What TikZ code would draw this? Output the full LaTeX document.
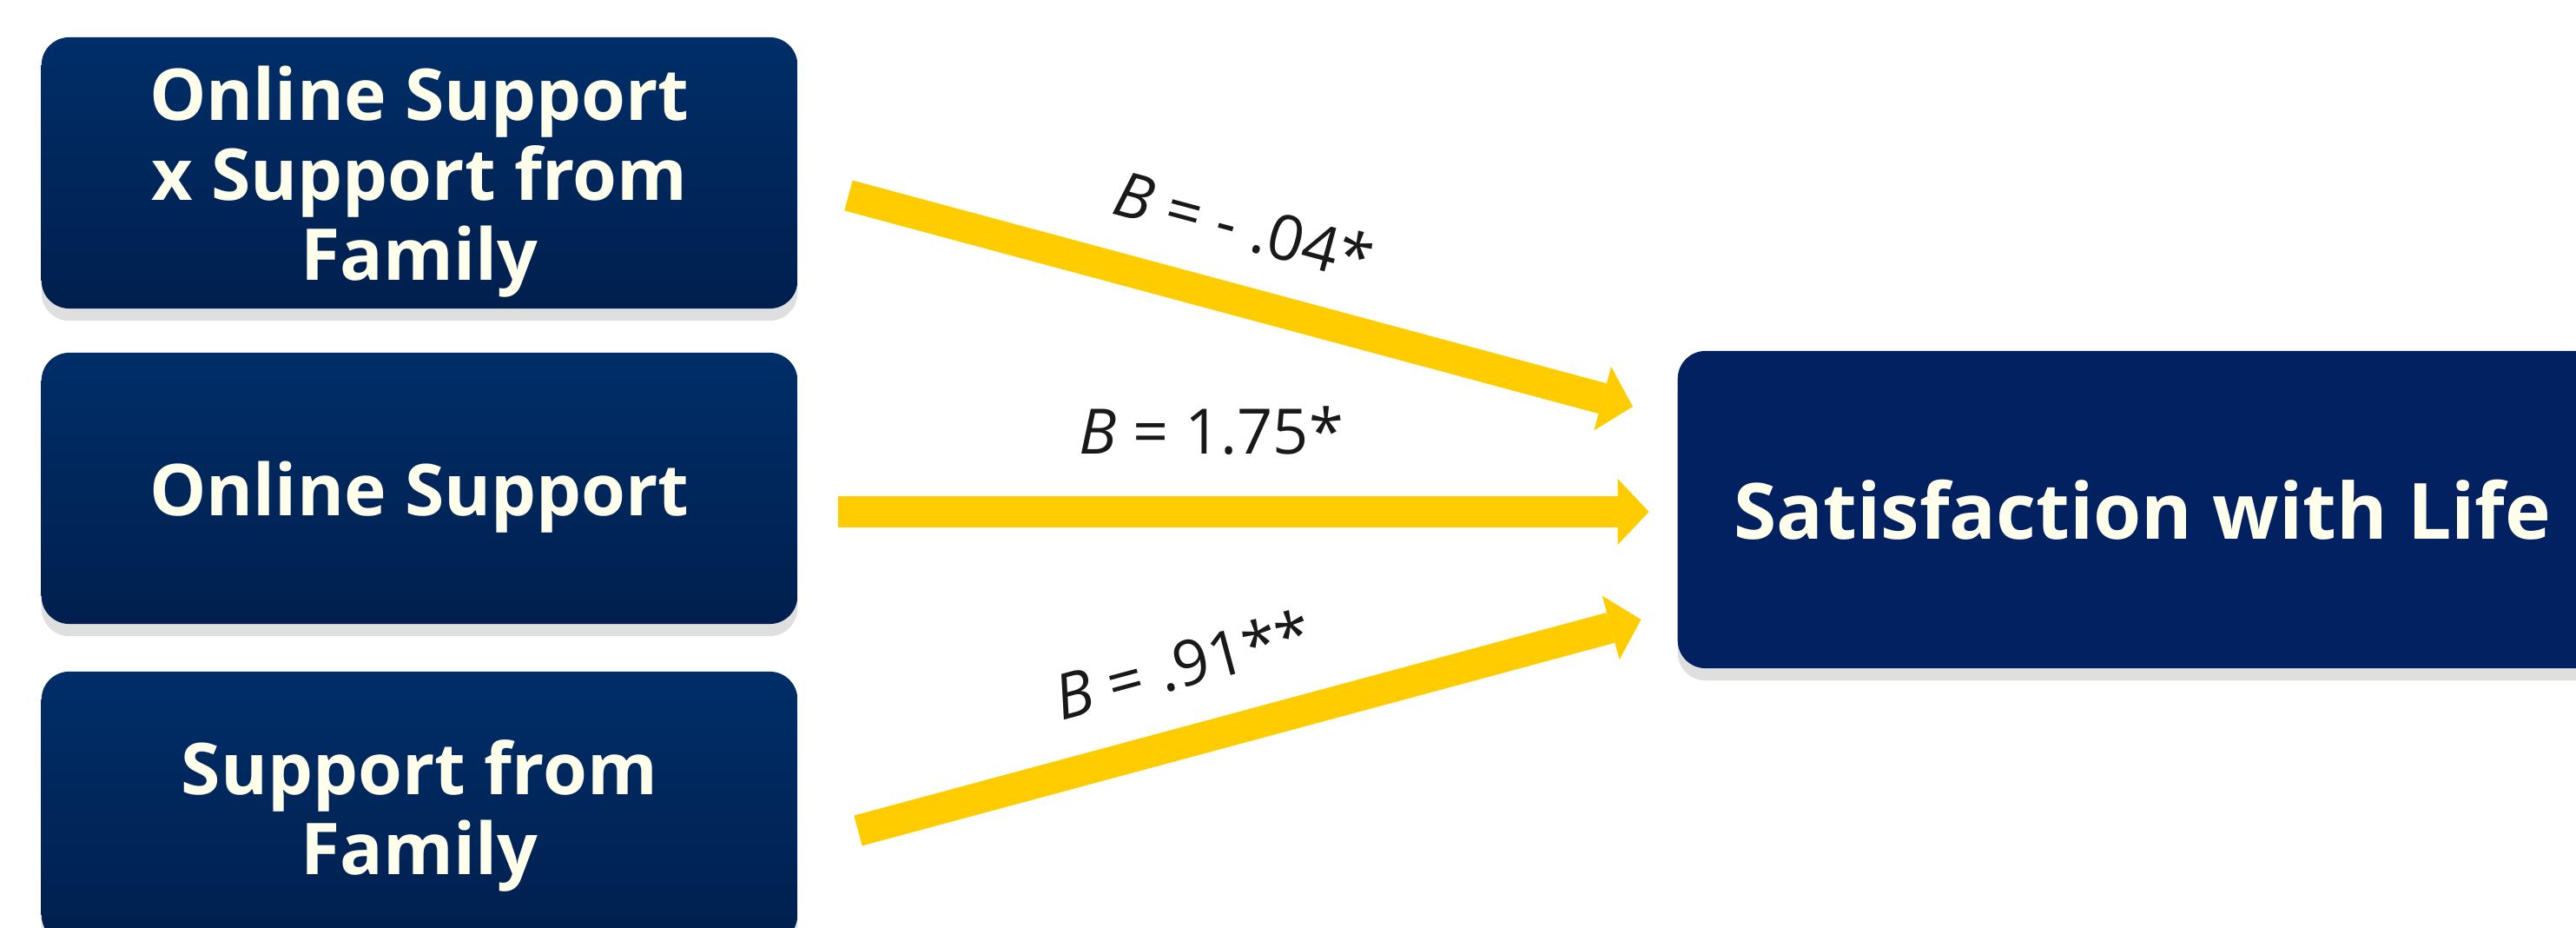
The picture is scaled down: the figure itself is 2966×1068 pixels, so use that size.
\documentclass[tikz,border=0pt]{standalone}
\usepackage{fontspec}
\setmainfont{Open Sans}
\usetikzlibrary{arrows.meta, calc, shadows}

\definecolor{navytop}{RGB}{0,46,104}
\definecolor{navybot}{RGB}{0,31,78}
\definecolor{navyflat}{RGB}{2,33,96}
\definecolor{ivory}{RGB}{255,255,235}
\definecolor{gold}{RGB}{255,204,0}

\begin{document}
\begin{tikzpicture}[x=0.01cm, y=-0.01cm,
    predbox/.style={rounded corners=0.32cm, minimum width=8.7cm, minimum height=3.12cm,
        top color=navytop, bottom color=navybot, text=ivory, align=center,
        text depth=0pt, font=\fontsize{23.4}{26.2}\selectfont\bfseries,
        drop shadow={shadow xshift=0pt, shadow yshift=-4pt, opacity=0.25}},
    outbox/.style={rounded corners=0.32cm, minimum width=10.7cm, minimum height=3.65cm,
        fill=navyflat, text=ivory, align=center,
        font=\fontsize{25.4}{30}\selectfont\bfseries,
        drop shadow={shadow xshift=0pt, shadow yshift=-4pt, opacity=0.25}},
    fatarrow/.style={draw=gold, line width=0.36cm,
        -{Triangle[length=0.36cm, width=0.76cm, line width=0pt]}},
    coef/.style={font=\fontsize{20.5}{24}\selectfont, text=black!90, inner sep=0pt, sloped}]

    % === Canvas ===
    \useasboundingbox (0,0) rectangle (2966,1068);

    % === Predictors ===
    \node[predbox] (inter)  at (483,199) {Online Support\\x Support from\\Family};
    \node[predbox] (online) at (483,562) {Online Support};
    \node[predbox] (family) at (483,929) {Support from\\Family};

    % === Outcome ===
    \node[outbox] (life) at (2467,586.5) {Satisfaction with Life};

    % === Paths ===
    \draw[fatarrow] ($(inter.east)+(58,26)$) -- ($(life.west)+(-51,-118.5)$)
    node[coef, pos=0.48, above=0.39cm] {\textit{B} = - .04*};
    \draw[fatarrow] ($(online.east)+(46.5,27)$) -- ($(life.west)+(-32.4,2.5)$)
    node[coef, pos=0.46, above=0.47cm] {\textit{B} = 1.75*};
    \draw[fatarrow] ($(family.east)+(69,27)$) -- ($(life.west)+(-41.5,126.5)$)
    node[coef, pos=0.44, above=0.42cm] {\textit{B} = .91**};

\end{tikzpicture}
\end{document}
